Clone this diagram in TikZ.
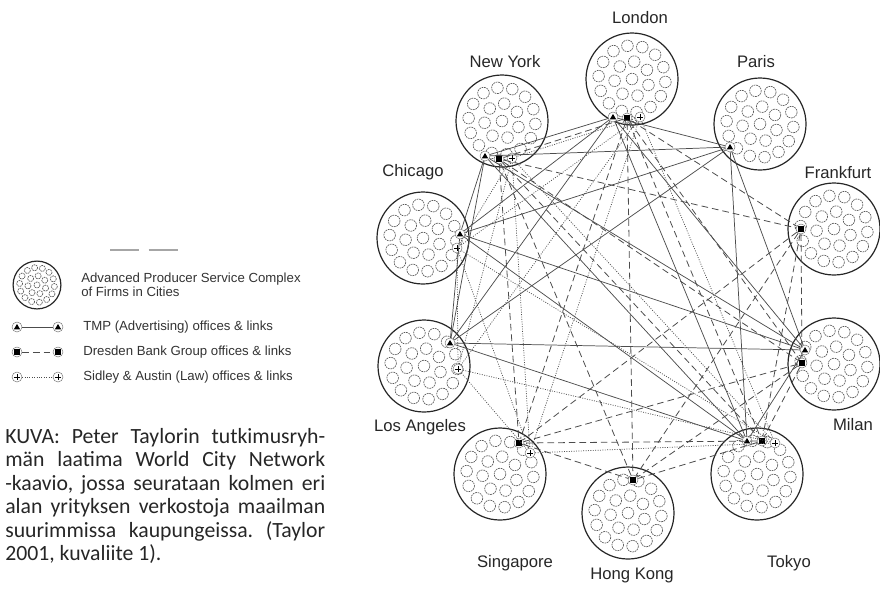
\documentclass[tikz,border=0pt]{standalone}
\usepackage{fontspec}
\setmainfont{Liberation Sans}
\newfontfamily\captionfont{Carlito}
\frenchspacing
\begin{document}
\begin{tikzpicture}[x=0.75pt,y=-0.75pt,
  citycirc/.style={draw=black!85, line width=0.9pt},
  firm/.style={draw=black!65, line width=0.5pt, dash pattern=on 1.3pt off 0.6pt},
  firms/.pic={
    \draw[citycirc] (0,0) circle (46);
    \foreach \k in {0,...,13} \draw[firm] ({\k*360/14+5}:33.5) circle (5.8);
    \foreach \k in {0,...,6} \draw[firm] ({\k*360/7+20}:17.5) circle (5.8);
    \draw[firm] (0,0) circle (5.8);
  },
  citylabel/.style={font=\fontsize{12.5}{14}\selectfont, text=black!85, inner sep=0},
  legendtext/.style={font=\fontsize{9.9}{8.4}\selectfont, text=black!80, inner sep=0, anchor=west, align=left},
  captext/.style={font=\captionfont\fontsize{16.3}{17.6}\selectfont, anchor=base west, inner sep=0, text=black!85},
  officebase/.style={circle, draw=black!55, line width=0.35pt, fill=white, minimum size=7.5pt, inner sep=0},
  tmpmark/.style={officebase, path picture={\fill[black] ([yshift=2.3pt]path picture bounding box.center) -- ++(2.4pt,-4.1pt) -- ++(-4.8pt,0pt) -- cycle;}},
  dbmark/.style={officebase, path picture={\fill[black] ([shift={(-2.1pt,-2.1pt)}]path picture bounding box.center) rectangle ++(4.2pt,4.2pt);}},
  slmark/.style={officebase, path picture={\draw[black, line width=0.6pt] ([yshift=-2.4pt]path picture bounding box.center) -- ++(0pt,4.8pt) ([xshift=-2.4pt]path picture bounding box.center) -- ++(4.8pt,0pt);}},
  tmplink/.style={draw=black!70, line width=0.55pt},
  dblink/.style={draw=black!70, line width=0.6pt, dash pattern=on 5pt off 3pt},
  sllink/.style={draw=black!70, line width=0.55pt, dash pattern=on 0.7pt off 1.1pt},
]
\useasboundingbox (0,0) rectangle (880,590);

% service complexes of the ten cities
\pic (lonC) at (632,79) {firms};
\pic (nycC) at (502,121) {firms};
\pic (parC) at (760,124) {firms};
\pic (chiC) at (423,238) {firms};
\pic (fraC) at (834,229) {firms};
\pic (laC)  at (424,366) {firms};
\pic (milC) at (834,364) {firms};
\pic (sinC) at (500,474) {firms};
\pic (tokC) at (757,474) {firms};
\pic (hkC)  at (628,513) {firms};

% city names
\node[citylabel] (lonL) at (640,18) {London};
\node[citylabel] (nycL) at (505,62) {New York};
\node[citylabel] (parL) at (756,62) {Paris};
\node[citylabel] (chiL) at (413,172) {Chicago};
\node[citylabel] (fraL) at (838,173) {Frankfurt};
\node[citylabel] (laL)  at (420,427) {Los Angeles};
\node[citylabel] (milL) at (853,425) {Milan};
\node[citylabel] (sinL) at (515,563) {Singapore};
\node[citylabel] (tokL) at (789,563) {Tokyo};
\node[citylabel] (hkL)  at (632,575) {Hong Kong};

% offices: TMP (triangle), Dresden Bank (square), Sidley & Austin (plus)
\node[tmpmark] (lonT) at (613,117) {};
\node[dbmark]  (lonS) at (627,118) {};
\node[slmark]  (lonP) at (640,117) {};
\node[tmpmark] (nyT) at (485,156) {};
\node[dbmark]  (nyS) at (499,159) {};
\node[slmark]  (nyP) at (512,158) {};
\node[tmpmark] (parT) at (730,147) {};
\node[tmpmark] (chiT) at (460,234) {};
\node[slmark]  (chiP) at (457,248) {};
\node[dbmark]  (fraS) at (801,229) {};
\node[tmpmark] (laT) at (450,343) {};
\node[slmark]  (laP) at (458,369) {};
\node[tmpmark] (milT) at (805,350) {};
\node[dbmark]  (milS) at (802,363) {};
\node[tmpmark] (tokT) at (747,441) {};
\node[dbmark]  (tokS) at (762,441) {};
\node[slmark]  (tokP) at (775,443) {};
\node[dbmark]  (sinS) at (519,443) {};
\node[slmark]  (sinP) at (530,453) {};
\node[dbmark]  (hkS) at (633,480) {};

% links: every office of a firm is tied to every other office of it
\foreach \a [count=\i] in {lonT,nyT,parT,chiT,laT,milT,tokT}{
  \foreach \b [count=\j] in {lonT,nyT,parT,chiT,laT,milT,tokT}{
    \ifnum\j>\i \draw[tmplink] (\a) -- (\b); \fi
  }
}
\foreach \a [count=\i] in {lonS,nyS,fraS,milS,tokS,sinS,hkS}{
  \foreach \b [count=\j] in {lonS,nyS,fraS,milS,tokS,sinS,hkS}{
    \ifnum\j>\i \draw[dblink] (\a) -- (\b); \fi
  }
}
\foreach \a [count=\i] in {lonP,nyP,chiP,laP,sinP,tokP}{
  \foreach \b [count=\j] in {lonP,nyP,chiP,laP,sinP,tokP}{
    \ifnum\j>\i \draw[sllink] (\a) -- (\b); \fi
  }
}

% legend
\draw[black!35, line width=1pt, dash pattern=on 22 off 7] (110,250) -- (182,250);
\pic[scale=0.52] (legC) at (37,285) {firms};
\node[legendtext] (legCt) at (81,285) {Advanced Producer Service Complex\\of Firms in Cities};
\node[tmpmark] (legT1) at (17,327) {};
\node[tmpmark] (legT2) at (58,327) {};
\draw[tmplink] (legT1) -- (legT2);
\node[legendtext] (legTt) at (83,327) {TMP (Advertising) offices \& links};
\node[dbmark] (legS1) at (17,352) {};
\node[dbmark] (legS2) at (58,352) {};
\draw[dblink] (legS1) -- (legS2);
\node[legendtext] (legSt) at (83,352) {Dresden Bank Group offices \& links};
\node[slmark] (legP1) at (17,377) {};
\node[slmark] (legP2) at (58,377) {};
\draw[sllink] (legP1) -- (legP2);
\node[legendtext] (legPt) at (83,377) {Sidley \& Austin (Law) offices \& links};

% caption
\node[captext] (cap1) at (5,443) {\makebox[240pt][s]{KUVA: Peter Taylorin tutkimusryh-}};
\node[captext] (cap2) at (5,466.5) {\makebox[240pt][s]{män laatima World City Network}};
\node[captext] (cap3) at (5,490) {\makebox[240pt][s]{-kaavio, jossa seurataan kolmen eri}};
\node[captext] (cap4) at (5,513.5) {\makebox[240pt][s]{alan yrityksen verkostoja maailman}};
\node[captext] (cap5) at (5,537) {\makebox[240pt][s]{suurimmissa kaupungeissa. (Taylor}};
\node[captext] (cap6) at (5,560.5) {2001, kuvaliite 1).};
\end{tikzpicture}
\end{document}
